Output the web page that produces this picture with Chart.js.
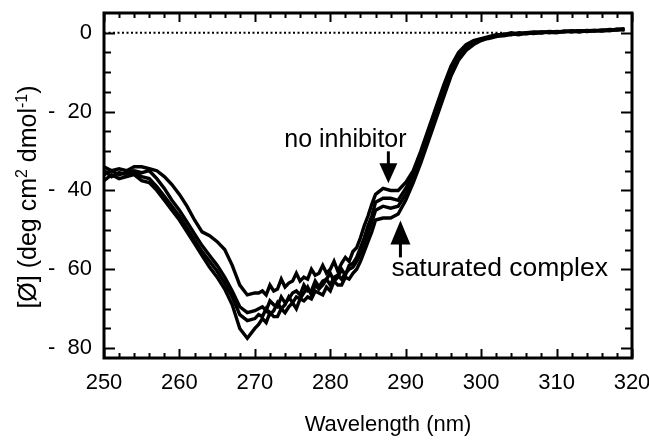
<!DOCTYPE html>
<html lang="en">
<head>
  <meta charset="UTF-8">
  <title>CD spectra</title>
  <script src="https://cdn.jsdelivr.net/npm/chart.js"></script>
  <style>
    html, body { margin: 0; padding: 0; background: #fff; }
    .chart-box { width: 649px; height: 447px; }
  </style>
</head>
<body>
<div class="chart-box">
  <canvas id="cdChart" width="649" height="447"></canvas>
</div>

<script>
  // wavelength (nm) - finer spacing in the noisy 270-286 region
  const wavelength = [
    250, 251, 252, 253, 254, 255, 256, 257, 258, 259, 260, 261, 262, 263, 264, 265, 266, 267, 268, 269, 270,
    270.5, 271, 271.5, 272, 272.5, 273, 273.5, 274, 274.5, 275, 275.5, 276, 276.5, 277, 277.5, 278, 278.5,
    279, 279.5, 280, 280.5, 281, 281.5, 282, 282.5, 283, 283.5, 284, 284.5, 285, 285.5, 286,
    287, 288, 289, 290, 291, 292, 293, 294, 295, 296, 297, 298, 299, 300, 301, 302, 303, 304, 305, 306,
    307, 308, 309, 310, 311, 312, 313, 314, 315, 316, 317, 318, 319, 320
  ];

  // no inhibitor
  const curveA = [
    -34, -35, -34.5, -35, -34, -34, -34.5, -35, -36.5, -38.5, -41, -44, -47.5, -50.5, -51.5, -53, -55, -59, -64, -66.5, -66,
    -66, -65.5, -66.5, -64, -65.5, -65, -62.5, -64.5, -63.5, -63, -61, -63, -62, -62.5, -60, -61.5, -61,
    -59, -61, -60, -58, -60.5, -58.5, -57, -58, -55.5, -54.5, -52, -49, -46.5, -43.5,
    -41, -39.5, -40, -40, -38, -35, -30, -24.5, -19, -13.5, -8.5, -5, -3, -2, -1.5, -1, -0.5, -0.5, 0, -0.3,
    0, 0.2, 0, 0.3, 0.2, 0.4, 0.3, 0.5, 0.4, 0.6, 0.5, 0.8, 0.7, 1
  ];

  const curveB = [
    -36, -35, -36, -35.5, -35, -35.5, -35, -37, -39.5, -42.5, -45, -48, -51, -54, -56.5, -59, -62, -65.5, -69.5, -71, -70.5,
    -70, -69.5, -70.5, -68, -69, -69.5, -67, -68.5, -67.5, -66, -65.5, -66.5, -64, -65.5, -65.5, -63, -64.5,
    -63, -62.5, -61, -63, -62, -60, -61.5, -59, -58.5, -57, -54.5, -52, -49, -46.5,
    -43, -42, -42, -42.5, -39.5, -36, -31, -25.5, -20, -14.5, -9.5, -5.5, -3.5, -2.3, -1.8, -1.2, -0.8, -0.3, -0.5, 0,
    -0.2, 0.1, 0.2, 0, 0.3, 0.2, 0.5, 0.3, 0.6, 0.4, 0.7, 0.6, 0.9, 0.8
  ];

  const curveC = [
    -35, -36.5, -35.5, -36, -35.5, -36.5, -37, -39, -41.5, -44, -46.5, -49.5, -52.5, -55.5, -58, -60.5, -63.5, -67, -71.5, -73, -72.5,
    -71.5, -72, -70, -71.5, -70.5, -68.5, -70, -69, -67, -68.5, -67, -67.5, -66, -64.5, -66.5, -64, -65,
    -64, -62.5, -64, -62, -61.5, -62.5, -61, -60, -59.5, -58, -56, -53.5, -51, -48,
    -45, -44, -44.5, -44, -41, -37, -32, -26.5, -21, -15.5, -10, -6.5, -4, -2.5, -1.5, -1.5, -1, -0.6, -0.3, -0.5,
    0, -0.2, 0.2, 0.1, 0, 0.4, 0.2, 0.5, 0.3, 0.5, 0.6, 0.5, 0.8, 0.9
  ];

  // saturated complex
  const curveD = [
    -37.5, -36, -37, -36.5, -36, -37.5, -38, -40, -42.5, -45, -47.5, -50.5, -53.5, -56.5, -59.5, -62, -65, -69, -75, -77.5, -75,
    -74, -72.5, -73.5, -71, -72, -72, -70, -71, -69.5, -68.5, -70, -67.5, -68, -67, -67.5, -65.5, -66,
    -66.5, -64.5, -65.5, -63, -64, -64, -62, -62.5, -61, -60, -58, -55.5, -53, -50.5,
    -47.5, -47, -47, -46, -42.5, -38, -33, -27.5, -22, -16.5, -11, -7, -4.5, -3, -2, -1.3, -0.8, -0.8, -0.4, -0.2,
    -0.3, 0, -0.1, 0.2, 0.1, 0.3, 0.4, 0.2, 0.5, 0.6, 0.4, 0.7, 0.8, 0.7
  ];

  // dotted baseline at zero
  const baselineX = [250, 303];
  const baselineY = [0, 0];

  const xTicks = [250, 260, 270, 280, 290, 300, 310, 320];
  const yTicks = [0, -20, -40, -60, -80];

  const FONT = 'Liberation Sans, Arial, Helvetica, sans-serif';

  function toPoints(xs, ys) {
    return xs.map((x, i) => ({ x: x, y: ys[i] }));
  }

  function curve(ys) {
    return {
      data: toPoints(wavelength, ys),
      borderColor: '#000',
      borderWidth: 3.4,
      pointRadius: 0,
      tension: 0,
      fill: false
    };
  }

  // frame + inward ticks on all four sides
  const frameTicks = {
    id: 'frameTicks',
    afterDatasetsDraw(chart) {
      const { ctx, chartArea: a, scales: { x, y } } = chart;
      ctx.save();
      ctx.strokeStyle = '#000';
      ctx.lineWidth = 2;
      ctx.beginPath();
      for (let v = 250; v <= 320; v += 2) {
        const px = Math.round(x.getPixelForValue(v)) + 0.5;
        const len = xTicks.includes(v) ? 9 : 5;
        ctx.moveTo(px, a.bottom); ctx.lineTo(px, a.bottom - len);
        ctx.moveTo(px, a.top); ctx.lineTo(px, a.top + len);
      }
      for (let v = 0; v >= -80; v -= 5) {
        const py = Math.round(y.getPixelForValue(v)) + 0.5;
        const len = yTicks.includes(v) ? 11 : 7;
        ctx.moveTo(a.left, py); ctx.lineTo(a.left + len, py);
        ctx.moveTo(a.right, py); ctx.lineTo(a.right - len, py);
      }
      ctx.stroke();
      ctx.lineWidth = 3;
      ctx.strokeRect(a.left, a.top, a.right - a.left, a.bottom - a.top);
      ctx.restore();
    }
  };

  // annotations, arrows and axis titles (y title needs superscripts)
  const labels = {
    id: 'labels',
    afterDraw(chart) {
      const { ctx, scales: { x, y } } = chart;
      ctx.save();
      ctx.fillStyle = '#000';
      ctx.strokeStyle = '#000';

      ctx.textBaseline = 'alphabetic';
      ctx.textAlign = 'left';
      ctx.font = '25px ' + FONT;
      ctx.fillText('no inhibitor', x.getPixelForValue(273.9), y.getPixelForValue(-29));
      ctx.font = '26.5px ' + FONT;
      ctx.fillText('saturated complex', x.getPixelForValue(288.1), y.getPixelForValue(-61.6));

      ctx.textBaseline = 'middle';
      ctx.textAlign = 'center';
      ctx.font = '22px ' + FONT;
      ctx.fillText('Wavelength (nm)', 388, 425);

      // down arrow
      let ax = x.getPixelForValue(287.7);
      let tip = y.getPixelForValue(-38.2);
      ctx.lineWidth = 3;
      ctx.beginPath();
      ctx.moveTo(ax, tip - 32); ctx.lineTo(ax, tip - 18);
      ctx.stroke();
      ctx.beginPath();
      ctx.moveTo(ax, tip); ctx.lineTo(ax - 9, tip - 20); ctx.lineTo(ax + 9, tip - 20);
      ctx.closePath(); ctx.fill();

      // up arrow
      ax = x.getPixelForValue(289.3);
      tip = y.getPixelForValue(-47.6);
      ctx.beginPath();
      ctx.moveTo(ax, tip + 37); ctx.lineTo(ax, tip + 20);
      ctx.stroke();
      ctx.beginPath();
      ctx.moveTo(ax, tip); ctx.lineTo(ax - 10, tip + 24); ctx.lineTo(ax + 10, tip + 24);
      ctx.closePath(); ctx.fill();

      // y title
      const parts = [
        ['[\u00D8] (deg cm', false], ['2', true], [' dmol', false], ['-1', true], [')', false]
      ];
      const big = '25px ' + FONT, small = '16px ' + FONT;
      let total = 0;
      parts.forEach(p => { ctx.font = p[1] ? small : big; total += ctx.measureText(p[0]).width; });
      ctx.translate(27, 197);
      ctx.rotate(-Math.PI / 2);
      ctx.textAlign = 'left';
      ctx.textBaseline = 'alphabetic';
      let cx = -total / 2;
      parts.forEach(p => {
        ctx.font = p[1] ? small : big;
        ctx.fillText(p[0], cx, p[1] ? 0 : 9);
        cx += ctx.measureText(p[0]).width;
      });
      ctx.restore();
    }
  };

  document.addEventListener('DOMContentLoaded', function() {
    const ctx = document.getElementById('cdChart').getContext('2d');
    new Chart(ctx, {
      type: 'line',
      data: {
        datasets: [
          curve(curveA),
          curve(curveB),
          curve(curveC),
          curve(curveD),
          {
            data: toPoints(baselineX, baselineY),
            borderColor: '#000',
            borderWidth: 2,
            borderDash: [2, 2.5],
            pointRadius: 0,
            fill: false
          }
        ]
      },
      options: {
        responsive: false,
        animation: false,
        layout: { autoPadding: false, padding: { top: 13, right: 17, left: 0, bottom: 0 } },
        plugins: { legend: { display: false }, tooltip: { enabled: false } },
        scales: {
          x: {
            type: 'linear',
            min: 250,
            max: 320,
            grid: { display: false, drawTicks: false },
            border: { display: false },
            ticks: {
              stepSize: 10,
              padding: 12,
              color: '#000',
              font: { family: FONT, size: 22 },
              maxRotation: 0
            },
            afterFit(scale) {
              scale.height = 89;
              scale.paddingLeft = 0;
              scale.paddingRight = 0;
            }
          },
          y: {
            type: 'linear',
            min: -82.5,
            max: 5,
            grid: { display: false, drawTicks: false },
            border: { display: false },
            ticks: {
              stepSize: 20,
              includeBounds: false,
              padding: 12,
              color: '#000',
              font: { family: FONT, size: 22 },
              callback: v => v < 0 ? '-  ' + Math.abs(v) : String(v)
            },
            afterFit(scale) {
              scale.width = 104;
              scale.paddingTop = 0;
              scale.paddingBottom = 0;
            }
          }
        }
      },
      plugins: [frameTicks, labels]
    });
  });
</script>
</body>
</html>
